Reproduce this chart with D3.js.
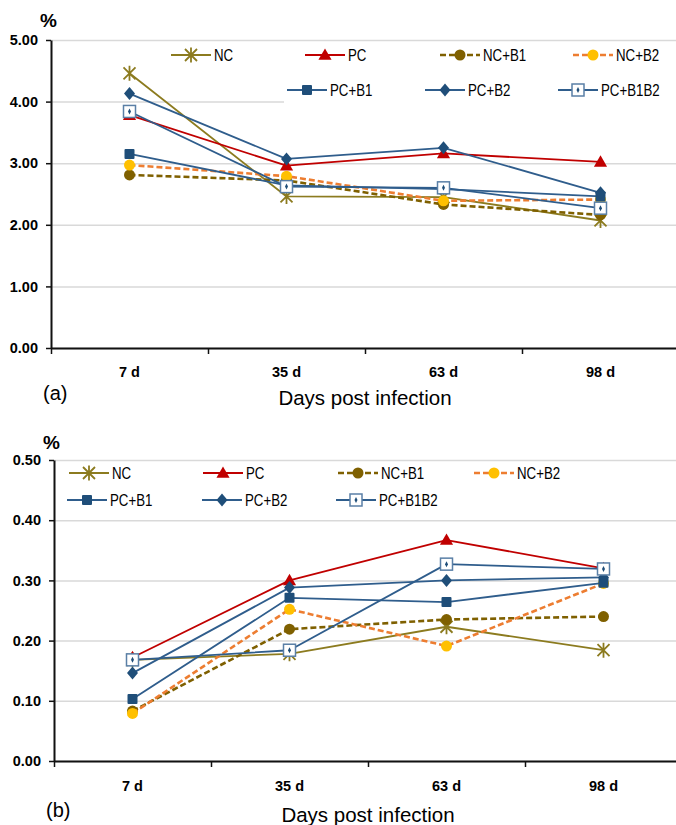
<!DOCTYPE html>
<html>
<head>
<meta charset="utf-8">
<script src="https://cdn.jsdelivr.net/npm/d3@7"></script>
<style>
  body { margin: 0; background: #fff; }
  text { font-family: "Liberation Sans", Arial, sans-serif; }
  .leg text { font-size: 16px; }
</style>
</head>
<body>
<svg id="fig" width="676" height="825"></svg>
<script>
var days = ["7 d", "35 d", "63 d", "98 d"];
var names = ["NC", "PC", "NC+B1", "NC+B2", "PC+B1", "PC+B2", "PC+B1B2"];
var ticksA = [0, 1, 2, 3, 4, 5];
var ticksB = [0, 0.1, 0.2, 0.3, 0.4, 0.5];

// panel (a)
var ncA     = [4.46, 2.46, 2.45, 2.07];
var pcA     = [3.78, 2.96, 3.16, 3.02];
var ncB1A   = [2.81, 2.72, 2.33, 2.16];
var ncB2A   = [2.97, 2.79, 2.39, 2.41];
var pcB1A   = [3.15, 2.64, 2.58, 2.46];
var pcB2A   = [4.13, 3.07, 3.25, 2.52];
var pcB1B2A = [3.84, 2.62, 2.60, 2.27];

// panel (b)
var ncB     = [0.168, 0.178, 0.223, 0.184];
var pcB     = [0.172, 0.300, 0.367, 0.320];
var ncB1B   = [0.083, 0.219, 0.235, 0.240];
var ncB2B   = [0.079, 0.252, 0.191, 0.295];
var pcB1B   = [0.103, 0.271, 0.264, 0.296];
var pcB2B   = [0.146, 0.288, 0.300, 0.305];
var pcB1B2B = [0.168, 0.184, 0.327, 0.319];

var seriesA = [ncA, pcA, ncB1A, ncB2A, pcB1A, pcB2A, pcB1B2A];
var seriesB = [ncB, pcB, ncB1B, ncB2B, pcB1B, pcB2B, pcB1B2B];

var blue = "#2f5d8c", navy = "#1f4e79";
var look = {
  "NC":      {line: "#8c7b1f", dash: null, w: 1.8},
  "PC":      {line: "#c00000", dash: null, w: 1.8},
  "NC+B1":   {line: "#7f6000", dash: "6,3", w: 2.6},
  "NC+B2":   {line: "#ed7d31", dash: "6,3", w: 2.6},
  "PC+B1":   {line: blue, dash: null, w: 1.8},
  "PC+B2":   {line: blue, dash: null, w: 1.8},
  "PC+B1B2": {line: blue, dash: null, w: 1.8}
};

function marker(g, name) {
  if (name == "NC") {
    g.append("path").attr("d", "M-6,-6L6,6M-6,6L6,-6M0,-7.5L0,7.5")
      .attr("stroke", "#8c7b1f").attr("stroke-width", 1.8).attr("fill", "none");
  } else if (name == "PC") {
    g.append("path").attr("d", d3.symbol(d3.symbolTriangle, 75)())
      .attr("transform", "translate(0,1)").attr("fill", "#c00000");
  } else if (name == "NC+B1") {
    g.append("circle").attr("r", 5.5).attr("fill", "#7f6000");
  } else if (name == "NC+B2") {
    g.append("circle").attr("r", 5.5).attr("fill", "#ffc000");
  } else if (name == "PC+B1") {
    g.append("rect").attr("x", -5).attr("y", -5).attr("width", 10).attr("height", 10)
      .attr("rx", 1).attr("fill", navy);
  } else if (name == "PC+B2") {
    g.append("path").attr("d", "M0,-6.5L5.5,0L0,6.5L-5.5,0Z").attr("fill", navy);
  } else {
    g.append("rect").attr("x", -6).attr("y", -6).attr("width", 12).attr("height", 12)
      .attr("fill", "#fff").attr("stroke", "#5a7fa6").attr("stroke-width", 1.5);
    g.append("path").attr("d", "M0,-3L1.5,0L0,3L-1.5,0Z").attr("fill", navy);
  }
}

function legendEntry(g, name, x, y) {
  var s = look[name];
  g.append("line").attr("x1", x).attr("x2", x + 40).attr("y1", y).attr("y2", y)
    .attr("stroke", s.line).attr("stroke-width", s.w)
    .attr("stroke-dasharray", s.dash);
  marker(g.append("g").attr("transform", "translate(" + (x + 20) + "," + y + ")"), name);
  // narrow face is not installed, so squeeze the regular one
  g.append("text").attr("transform", "translate(" + (x + 43) + "," + y + ") scale(0.83,1)")
    .attr("dy", "0.36em").attr("fill", "#000").text(name);
}

var svg = d3.select("#fig");

function panel(p) {
  var g = svg.append("g");
  var x = d3.scaleBand().domain(days).range([p.left, p.right]);
  var xb = d3.scaleLinear().domain([0, days.length]).range([p.left, p.right]);
  var y = d3.scaleLinear().domain([0, p.max]).range([p.bottom, p.top]);

  // grid
  g.append("g").attr("transform", "translate(" + p.left + ",0)")
    .call(d3.axisLeft(y).tickValues(p.ticks).tickSize(-(676 - p.left)).tickFormat(""))
    .call(function(a) {
      a.select(".domain").remove();
      a.selectAll("line").attr("stroke", "#d9d9d9").attr("stroke-width", 1.5);
    });

  if (p.legendMask) {
    g.append("rect").attr("x", p.legendMask[0]).attr("y", p.legendMask[1])
      .attr("width", 676 - p.legendMask[0]).attr("height", p.legendMask[2]).attr("fill", "#fff");
  }

  // y axis
  g.append("g").attr("transform", "translate(" + p.left + ",0)")
    .call(d3.axisLeft(y).tickValues(p.ticks).tickSize(5).tickSizeOuter(0).tickPadding(8)
      .tickFormat(d3.format(".2f")))
    .call(function(a) {
      a.select(".domain").attr("stroke", "#111").attr("stroke-width", 2);
      a.selectAll("line").attr("stroke", "#111").attr("stroke-width", 1.5);
      a.selectAll("text").attr("font-size", 14.5).attr("font-weight", "bold")
        .attr("font-family", "Liberation Sans, Arial, sans-serif").attr("fill", "#000");
    });

  // x axis: boundaries ticks + category labels
  g.append("g").attr("transform", "translate(0," + p.bottom + ")")
    .call(d3.axisBottom(xb).ticks(days.length).tickSize(6).tickSizeOuter(0).tickFormat(""))
    .call(function(a) {
      a.select(".domain").attr("stroke", "#111").attr("stroke-width", 2);
      a.selectAll("line").attr("stroke", "#111").attr("stroke-width", 1.5);
    });
  g.append("g").attr("transform", "translate(0," + p.bottom + ")")
    .call(d3.axisBottom(x).tickSize(0).tickPadding(p.labelPad))
    .call(function(a) {
      a.select(".domain").remove();
      a.selectAll("text").attr("font-size", 14.5).attr("font-weight", "bold")
        .attr("font-family", "Liberation Sans, Arial, sans-serif").attr("fill", "#000");
    });

  // series
  var line = d3.line().x(function(d, i) { return x(days[i]) + x.bandwidth() / 2; })
    .y(function(d) { return y(d); });
  p.series.forEach(function(vals, k) {
    var name = names[k], s = look[name];
    g.append("path").datum(vals).attr("d", line).attr("fill", "none")
      .attr("stroke", s.line).attr("stroke-width", s.w)
      .attr("stroke-dasharray", s.dash).attr("stroke-linejoin", "round");
    vals.forEach(function(v, i) {
      marker(g.append("g").attr("transform",
        "translate(" + (x(days[i]) + x.bandwidth() / 2) + "," + y(v) + ")"), name);
    });
  });

  // legend
  var lg = g.append("g").attr("class", "leg");
  p.legend.forEach(function(e, k) { legendEntry(lg, names[k], e[0], e[1]); });

  // labels
  g.append("text").attr("x", p.left - 11).attr("y", p.pctY).attr("font-size", 19)
    .attr("font-weight", "bold").text("%");
  g.append("text").attr("x", p.left - 8).attr("y", p.tagY).attr("font-size", 20).text(p.tag);
  g.append("text").attr("x", (p.left + p.right) / 2).attr("y", p.titleY)
    .attr("text-anchor", "middle").attr("font-size", 20.5).text("Days post infection");
}

panel({
  left: 51, right: 679, top: 40, bottom: 348, max: 5, ticks: ticksA,
  series: seriesA, labelPad: 19, pctY: 27, tagY: 400, titleY: 405, tag: "(a)",
  legendMask: [284, 45, 59],
  legend: [[171, 55], [305, 55], [440, 55], [573, 55], [287, 90], [425, 90], [558, 90]]
});

panel({
  left: 54, right: 682, top: 460, bottom: 761, max: 0.5, ticks: ticksB,
  series: seriesB, labelPad: 20, pctY: 449, tagY: 817, titleY: 822, tag: "(b)",
  legend: [[69, 473], [203, 473], [338, 473], [474, 473], [67, 500], [202, 500], [336, 500]]
});
</script>
</body>
</html>
